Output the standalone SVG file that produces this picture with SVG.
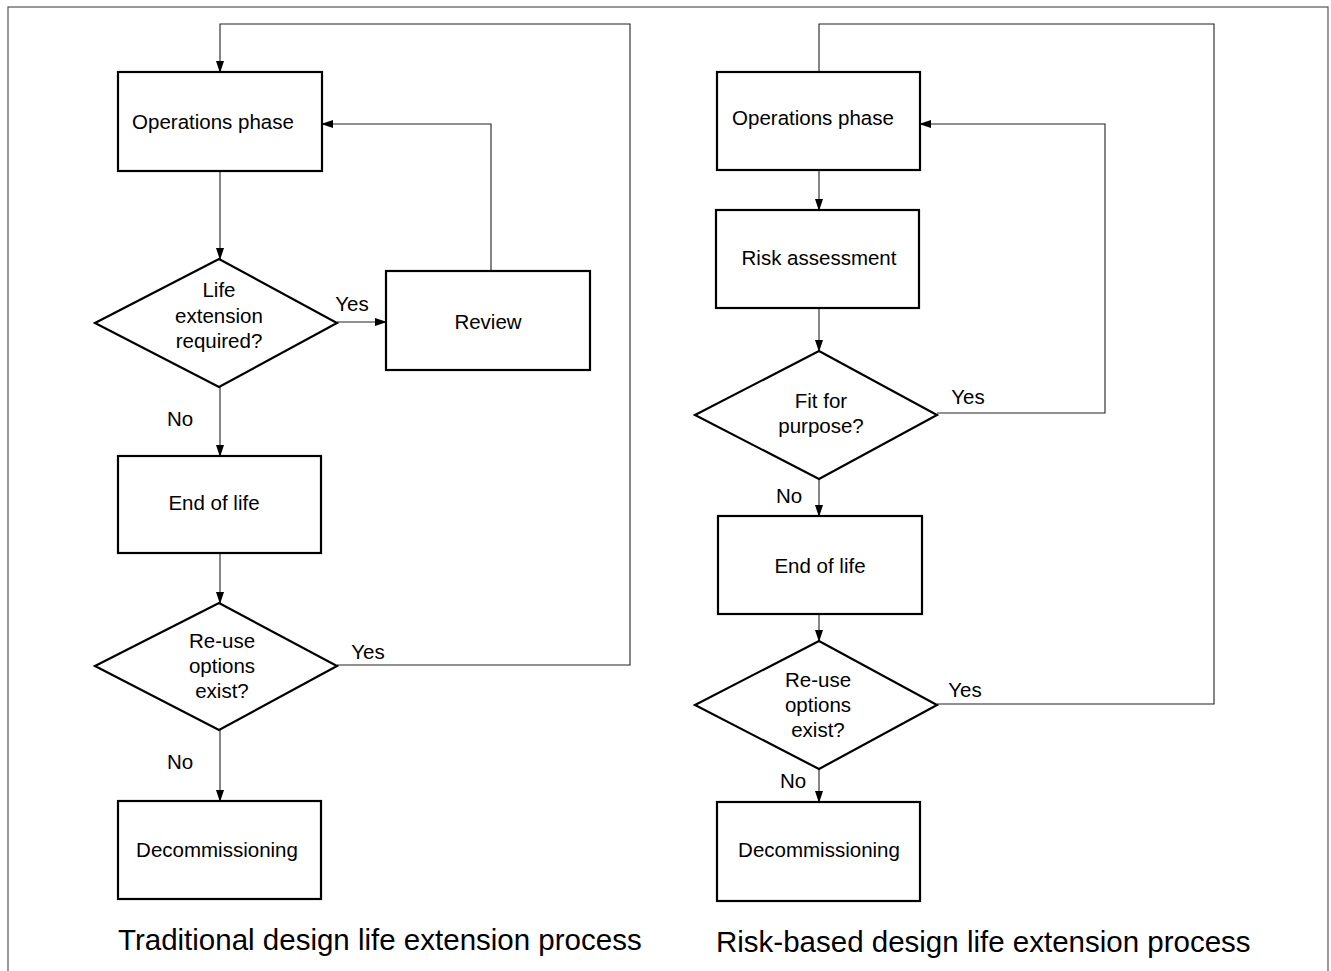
<svg xmlns="http://www.w3.org/2000/svg" width="1331" height="971" viewBox="0 0 1331 971">
<defs>
<marker id="ah" markerWidth="12" markerHeight="8" refX="11" refY="4" orient="auto" markerUnits="userSpaceOnUse">
<path d="M0,0 L12,4 L0,8 Z" fill="#000"/>
</marker>
<style>
.box{fill:#fff;stroke:#000;stroke-width:2.2}
.con{fill:none;stroke:#222;stroke-width:1.1}
.arr{fill:none;stroke:#222;stroke-width:1.1;marker-end:url(#ah)}
text{font-family:"Liberation Sans",Arial,sans-serif;font-size:20.5px;fill:#000}
.c{text-anchor:middle}
.cap{font-size:29.5px}
</style>
</defs>
<rect x="0" y="0" width="1331" height="971" fill="#fff"/>
<rect x="8" y="7" width="1320" height="980" fill="none" stroke="#555" stroke-width="1.2"/>

<g id="connectors">
<path class="arr" d="M337,665 H630 V24 H220 V72"/>
<path class="arr" d="M491,271 V124 H322"/>
<path class="arr" d="M220,171 V259"/>
<path class="arr" d="M337,322 H386"/>
<path class="arr" d="M220,387 V456"/>
<path class="arr" d="M220,553 V603"/>
<path class="arr" d="M220,730 V801"/>
<path class="con" d="M937,704 H1214 V24 H819 V72"/>
<path class="arr" d="M937,413 H1105 V124 H920"/>
<path class="arr" d="M819,170 V210"/>
<path class="arr" d="M819,308 V351"/>
<path class="arr" d="M819,479 V516"/>
<path class="arr" d="M819,614 V641"/>
<path class="arr" d="M819,769 V802"/>
</g>

<g id="l-ops"><rect class="box" x="118" y="72" width="204" height="99"/><text class="c" x="213" y="129">Operations phase</text></g>
<g id="l-life"><path class="box" d="M95,323 L219,259 L337,323 L219,387 Z"/><text class="c" x="219" y="297">Life</text><text class="c" x="219" y="323">extension</text><text class="c" x="219" y="348">required?</text></g>
<g id="l-review"><rect class="box" x="386" y="271" width="204" height="99"/><text class="c" x="488" y="329">Review</text></g>
<g id="l-end"><rect class="box" x="118" y="456" width="203" height="97"/><text class="c" x="214" y="510">End of life</text></g>
<g id="l-reuse"><path class="box" d="M95,666 L219,603 L337,666 L219,730 Z"/><text class="c" x="222" y="648">Re-use</text><text class="c" x="222" y="673">options</text><text class="c" x="222" y="698">exist?</text></g>
<g id="l-decom"><rect class="box" x="118" y="801" width="203" height="98"/><text class="c" x="217" y="857">Decommissioning</text></g>
<g id="l-labels"><text class="c" x="352" y="311">Yes</text><text class="c" x="180" y="426">No</text><text class="c" x="368" y="659">Yes</text><text class="c" x="180" y="769">No</text></g>
<text class="cap" x="118" y="950">Traditional design life extension process</text>

<g id="r-ops"><rect class="box" x="717" y="72" width="203" height="98"/><text class="c" x="813" y="125">Operations phase</text></g>
<g id="r-risk"><rect class="box" x="716" y="210" width="203" height="98"/><text class="c" x="819" y="265">Risk assessment</text></g>
<g id="r-fit"><path class="box" d="M695,415 L819,351 L937,415 L819,479 Z"/><text class="c" x="821" y="408">Fit for</text><text class="c" x="821" y="433">purpose?</text></g>
<g id="r-end"><rect class="box" x="718" y="516" width="204" height="98"/><text class="c" x="820" y="573">End of life</text></g>
<g id="r-reuse"><path class="box" d="M695,705 L819,641 L937,705 L819,769 Z"/><text class="c" x="818" y="687">Re-use</text><text class="c" x="818" y="712">options</text><text class="c" x="818" y="737">exist?</text></g>
<g id="r-decom"><rect class="box" x="717" y="802" width="203" height="99"/><text class="c" x="819" y="857">Decommissioning</text></g>
<g id="r-labels"><text class="c" x="968" y="404">Yes</text><text class="c" x="789" y="503">No</text><text class="c" x="965" y="697">Yes</text><text class="c" x="793" y="788">No</text></g>
<text class="cap" x="716" y="952">Risk-based design life extension process</text>
</svg>
